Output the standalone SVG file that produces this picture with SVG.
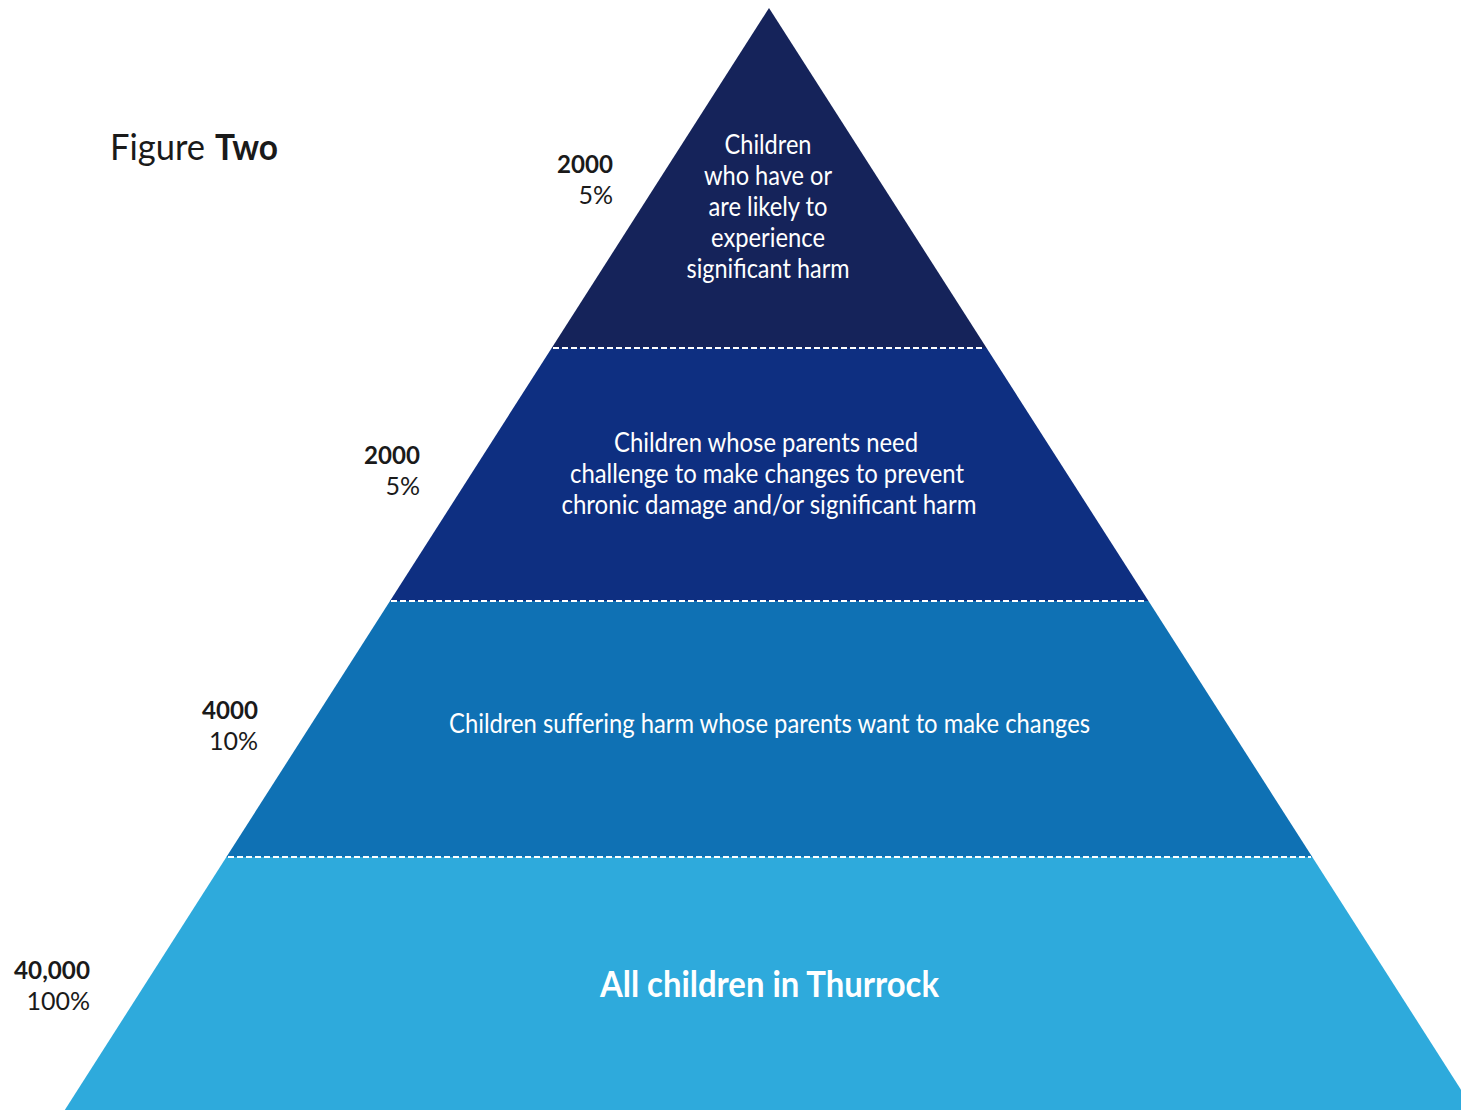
<svg xmlns="http://www.w3.org/2000/svg" width="1461" height="1110" viewBox="0 0 1461 1110">
<style>
.lbl{font-family:"Lato","Liberation Sans",sans-serif;fill:#1a1a1a;font-size:25px;text-anchor:end}
.num{font-weight:bold}
.in{font-family:"Lato","Liberation Sans",sans-serif;fill:#ffffff;font-size:26px;text-anchor:middle}
.big{font-size:36px;font-weight:bold}
.ttl{font-family:"Lato","Liberation Sans",sans-serif;fill:#1a1a1a;font-size:37px}
.dash{stroke:#ffffff;stroke-width:2;stroke-dasharray:6 3;fill:none}
</style>
<rect width="1461" height="1110" fill="#ffffff"/>
<g id="title">
<text class="ttl" x="110" y="160" textLength="95" lengthAdjust="spacingAndGlyphs">Figure</text>
<text class="ttl" x="215" y="160" font-weight="bold" textLength="63" lengthAdjust="spacingAndGlyphs">Two</text>
</g>
<g id="tier1">
<polygon points="769,8 986.6,348 551.7,348" fill="#15235a"/>
<text class="in" x="768" y="154" textLength="87" lengthAdjust="spacingAndGlyphs">Children</text>
<text class="in" x="768" y="185" textLength="128" lengthAdjust="spacingAndGlyphs">who have or</text>
<text class="in" x="768" y="216" textLength="119" lengthAdjust="spacingAndGlyphs">are likely to</text>
<text class="in" x="768" y="247" textLength="114" lengthAdjust="spacingAndGlyphs">experience</text>
<text class="in" x="768" y="278" textLength="163" lengthAdjust="spacingAndGlyphs">significant harm</text>
<text class="lbl num" x="613" y="173" textLength="56" lengthAdjust="spacingAndGlyphs">2000</text>
<text class="lbl" x="613" y="204">5%</text>
</g>
<g id="tier2">
<polygon points="551.7,348 986.6,348 1148.5,601 390,601" fill="#0e2f81"/>
<text class="in" x="766" y="452" textLength="304" lengthAdjust="spacingAndGlyphs">Children whose parents need</text>
<text class="in" x="767" y="483" textLength="394" lengthAdjust="spacingAndGlyphs">challenge to make changes to prevent</text>
<text class="in" x="769" y="514" textLength="415" lengthAdjust="spacingAndGlyphs">chronic damage and/or significant harm</text>
<text class="lbl num" x="420" y="464" textLength="56" lengthAdjust="spacingAndGlyphs">2000</text>
<text class="lbl" x="420" y="495">5%</text>
</g>
<g id="tier3">
<polygon points="390,601 1148.5,601 1312.3,857 226.4,857" fill="#0f71b4"/>
<text class="in" x="769.5" y="733" textLength="641" lengthAdjust="spacingAndGlyphs">Children suffering harm whose parents want to make changes</text>
<text class="lbl num" x="258" y="719" textLength="56" lengthAdjust="spacingAndGlyphs">4000</text>
<text class="lbl" x="258" y="750">10%</text>
</g>
<g id="tier4">
<polygon points="226.4,857 1312.3,857 1474,1110 64.8,1110" fill="#2eaadc"/>
<text class="in big" x="769.5" y="997" textLength="339" lengthAdjust="spacingAndGlyphs">All children in Thurrock</text>
<text class="lbl num" x="90" y="979" textLength="76" lengthAdjust="spacingAndGlyphs">40,000</text>
<text class="lbl" x="90" y="1010">100%</text>
</g>
<g id="connectors">
<line class="dash" x1="553" y1="348" x2="985" y2="348"/>
<line class="dash" x1="391" y1="601" x2="1147" y2="601"/>
<line class="dash" x1="228" y1="857" x2="1311" y2="857"/>
</g>
</svg>
